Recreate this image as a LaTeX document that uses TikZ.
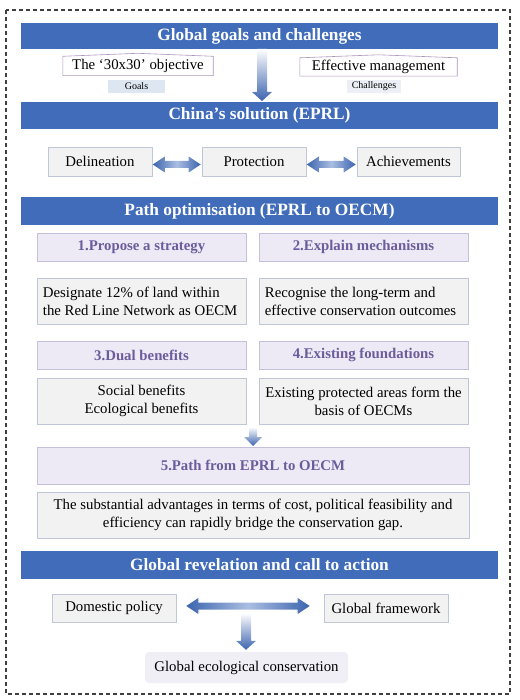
\documentclass[tikz,border=0pt]{standalone}
\usepackage{fontspec}
\setmainfont{Liberation Serif}
\usetikzlibrary{calc}
\definecolor{hblue}{RGB}{64,108,186}
\definecolor{ablue}{RGB}{60,100,175}
\definecolor{ablight}{RGB}{170,190,225}
\definecolor{boxgray}{RGB}{242,242,242}
\definecolor{boxedge}{RGB}{190,198,215}
\definecolor{lav}{RGB}{237,234,246}
\definecolor{lavedge}{RGB}{196,192,220}
\definecolor{ptext}{RGB}{108,92,156}
\definecolor{objedge}{RGB}{170,150,185}
\definecolor{tagblue}{RGB}{222,230,242}
\definecolor{tagpale}{RGB}{236,240,246}
\definecolor{gecfill}{RGB}{240,239,246}
\newcommand\vshade[4]{%
  \shade[top color=white, bottom color=ablue]
    let \p1=(#1), \p2=(#2) in
    (\x1-#3,\y1) -- (\x1+#3,\y1) -- (\x1+#3,\y2+9pt) -- (\x1+#4,\y2+9pt)
    -- (\x1,\y2) -- (\x1-#4,\y2+9pt) -- (\x1-#3,\y2+9pt) -- cycle;}
\newcommand\hshade[5]{%
  \shade[left color=ablue, right color=ablue, middle color=ablight]
    let \p1=(#1), \p2=(#2) in
    (\x1,\y1) -- (\x1+#5,\y1+#4) -- (\x1+#5,\y1+#3) -- (\x2-#5,\y1+#3)
    -- (\x2-#5,\y1+#4) -- (\x2,\y1) -- (\x2-#5,\y1-#4) -- (\x2-#5,\y1-#3)
    -- (\x1+#5,\y1-#3) -- (\x1+#5,\y1-#4) -- cycle;}
\tikzset{
  hdr/.style={fill=hblue, text=white, font=\bfseries\fontsize{17.3}{20}\selectfont,
    minimum width=477pt, inner sep=0pt},
  gbox/.style={fill=boxgray, draw=boxedge, line width=0.6pt, inner sep=0pt,
    font=\fontsize{14.8}{18}\selectfont},
  ltext/.style={anchor=west, inner sep=0pt, align=left, font=\fontsize{14.8}{18}\selectfont},
  pbox/.style={fill=lav, draw=lavedge, line width=0.6pt, inner sep=0pt, text=ptext,
    font=\bfseries\fontsize{14.8}{18}\selectfont},
  objbox/.style={inner sep=0pt, font=\fontsize{14.8}{17}\selectfont},
  tagbox/.style={inner sep=0pt, font=\fontsize{10}{12}\selectfont},
  frame/.style={draw=black!75, line width=1.1pt, dash pattern=on 4pt off 3pt}
}
\begin{document}
\begin{tikzpicture}[x=1pt,y=-1pt]
\useasboundingbox (0,0) rectangle (519,700);
\draw[frame] (6,10) rectangle (510,694);

% headers
\node[hdr, minimum height=26pt] (h1) at (259.5,36) {Global goals and challenges};
\node[hdr, minimum height=27pt] (h2) at (259.5,115.5) {China's solution (EPRL)};
\node[hdr, minimum height=28pt] (h3) at (259.5,211) {Path optimisation (EPRL to OECM)};
\node[hdr, minimum height=28pt] (h4) at (259.5,565) {Global revelation and call to action};

% goals & challenges
\node[objbox, minimum width=150pt, minimum height=19pt] (o1) at (138,66) {The `30x30' objective};
\draw[objedge, line width=0.6pt] (o1.south west) -- (o1.south east) -- (o1.north east)
  -- ($(o1.north)+(0,-3)$) -- (o1.north west) -- cycle;
\node[objbox, minimum width=157pt, minimum height=18pt] (o2) at (378.5,67) {Effective management};
\draw[objedge, line width=0.6pt] (o2.south west) -- (o2.south east) -- (o2.north east)
  -- ($(o2.north)+(0,-3)$) -- (o2.north west) -- cycle;
\node[tagbox, fill=tagblue, minimum width=57pt, minimum height=13pt] (t1) at (136.5,86.5) {Goals};
\node[tagbox, fill=tagpale, minimum width=54pt, minimum height=13pt] (t2) at (374,86.5) {Challenges};

\coordinate (a1s) at (262,49);
\coordinate (a1e) at (262,101);
\vshade{a1s}{a1e}{5pt}{10pt}

% EPRL row
\node[gbox, minimum width=104pt, minimum height=29pt] (del) at (100,161.5) {Delineation};
\node[gbox, minimum width=104pt, minimum height=29pt] (pro) at (254,161.5) {Protection};
\node[gbox, minimum width=103pt, minimum height=29pt] (ach) at (408.5,161.5) {Achievements};
\hshade{$(del.east)+(0.5,3)$}{$(pro.west)+(-1,3)$}{3.5pt}{8pt}{12pt}
\hshade{$(pro.east)+(0.5,3)$}{$(ach.west)+(-1,3)$}{3.5pt}{8pt}{12pt}

% path optimisation
\node[pbox, minimum width=209pt, minimum height=28pt] (p1) at (141.5,247) {1.Propose a strategy};
\node[pbox, minimum width=209pt, minimum height=28pt] (p2) at (363.5,247) {2.Explain mechanisms};
\node[gbox, minimum width=209pt, minimum height=46pt] (b1) at (141.5,301) {};
\node[ltext] (b1t) at ($(b1.west)+(6,0)$) {Designate 12\% of land within\\the Red Line Network as OECM};
\node[gbox, minimum width=209pt, minimum height=46pt] (b2) at (363.5,301) {};
\node[ltext] (b2t) at ($(b2.west)+(6,0)$) {Recognise the long-term and\\effective conservation outcomes};
\node[pbox, minimum width=209pt, minimum height=28pt] (p3) at (141.5,355) {3.Dual benefits};
\node[pbox, minimum width=209pt, minimum height=28pt] (p4) at (363.5,355) {4.Existing foundations};
\node[gbox, minimum width=209pt, minimum height=46pt, align=center] (b3) at (141.5,401)
  {Social benefits\\Ecological benefits};
\node[gbox, minimum width=209pt, minimum height=46pt, align=center] (b4) at (363.5,401)
  {Existing protected areas form the\\basis of OECMs};
\coordinate (a2s) at (253,427);
\coordinate (a2e) at (253,446);
\vshade{a2s}{a2e}{4pt}{9pt}
\node[pbox, minimum width=432pt, minimum height=37pt] (p5) at (253,465.5) {5.Path from EPRL to OECM};
\node[gbox, minimum width=432pt, minimum height=46pt, align=center] (b5) at (253,515)
  {The substantial advantages in terms of cost, political feasibility and\\efficiency can rapidly bridge the conservation gap.};

% global revelation
\node[gbox, minimum width=124pt, minimum height=28pt] (dom) at (114,608) {Domestic policy};
\node[gbox, minimum width=124pt, minimum height=28pt] (glo) at (386,608) {Global framework};
\hshade{$(dom.east)+(10,-2)$}{$(glo.west)+(-14,-2)$}{3.5pt}{8pt}{12pt}
\node[fill=gecfill, rounded corners=4pt, inner sep=0pt, minimum width=203pt, minimum height=31pt,
  font=\fontsize{14.8}{18}\selectfont] (gec) at (246.5,667.5) {Global ecological conservation};
\coordinate (a3s) at (246,613);
\coordinate (a3e) at ($(gec.north)+(-0.5,-2)$);
\vshade{a3s}{a3e}{5pt}{10pt}
\end{tikzpicture}
\end{document}
